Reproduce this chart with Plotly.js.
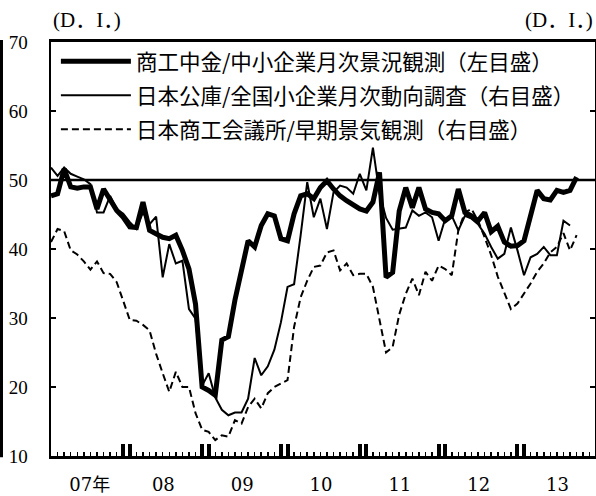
<!DOCTYPE html>
<html><head><meta charset="utf-8">
<script src="https://cdn.plot.ly/plotly-3.0.1.min.js"></script>
<style>html,body{margin:0;padding:0;background:#fff}#chart{width:596px;height:496px}</style>
</head><body><div id="chart"></div>
<script>
// Monthly data from Jan 2007 (index 0)
const shokoChukin = [47.7, 48.0, 51.6, 49.0, 48.8, 49.0, 49.0, 45.8, 48.7, 47.3,
 45.6, 44.6, 43.2, 43.1, 46.8, 42.7, 42.2, 41.7, 41.5, 42.0,
 39.8, 37.1, 32.0, 20.0, 19.5, 18.8, 26.8, 27.3, 32.6, 36.9,
 41.2, 40.3, 43.4, 45.1, 44.8, 41.5, 41.2, 45.1, 47.7, 48.0,
 47.3, 48.9, 49.9, 48.7, 47.7, 47.0, 46.3, 45.8, 45.5, 46.8,
 51.1, 35.9, 36.6, 45.5, 48.9, 46.0, 48.9, 45.8, 45.3, 45.1,
 44.1, 44.8, 48.7, 45.3, 44.8, 44.1, 45.3, 42.5, 43.3, 41.0,
 40.4, 40.5, 41.2, 45.1, 48.5, 47.3, 47.1, 48.5, 48.2, 48.5,
 50.4];
const nihonKoko = [51.8, 50.6, 51.8, 50.9, 50.5, 50.1, 49.4, 45.3, 45.3, 47.7,
 45.8, 45.1, 43.9, 42.9, 45.3, 43.6, 44.7, 35.9, 40.7, 37.9,
 38.3, 31.3, 29.9, 20.2, 22.0, 18.5, 16.7, 15.9, 16.3, 16.3,
 18.3, 24.2, 21.7, 23.0, 25.4, 29.4, 34.5, 34.9, 42.0, 49.7,
 44.6, 47.3, 42.9, 48.2, 49.2, 48.9, 48.0, 50.9, 48.5, 54.7,
 48.0, 44.5, 42.8, 43.0, 43.1, 45.6, 44.8, 45.3, 44.6, 41.2,
 44.4, 44.8, 42.7, 44.8, 44.4, 43.6, 42.2, 40.3, 38.6, 39.3,
 43.1, 39.8, 36.2, 38.8, 39.3, 40.3, 39.1, 39.1, 44.1, 43.4];
const nissho = [41.0, 42.9, 42.6, 39.8, 39.2, 38.2, 37.0, 38.2, 36.5, 36.4,
 35.2, 32.4, 29.7, 29.6, 29.0, 28.2, 24.8, 22.0, 19.3, 22.2,
 20.0, 20.0, 16.2, 13.8, 13.5, 12.3, 13.0, 12.8, 15.2, 14.7,
 17.1, 18.3, 16.9, 19.1, 20.0, 20.5, 21.0, 28.7, 33.0, 35.4,
 37.4, 37.6, 39.5, 39.8, 36.9, 37.9, 36.2, 36.4, 36.4, 34.5,
 29.7, 25.0, 25.8, 30.5, 33.5, 35.7, 33.3, 36.7, 35.4, 37.6,
 37.1, 36.2, 42.7, 45.3, 45.8, 44.1, 41.7, 39.1, 36.0, 33.5,
 31.3, 32.1, 33.5, 35.0, 36.7, 37.9, 39.5, 40.3, 42.3, 39.8,
 42.0];
const seriesNames = [
  '商工中金/中小企業月次景況観測（左目盛）',
  '日本公庫/全国小企業月次動向調査（右目盛）',
  '日本商工会議所/早期景気観測（右目盛）'
];
const yearLabels = ['07年', '08', '09', '10', '11', '12', '13'];
const unitLabel = '(D．I．)';
const refLevel = 50;

const idx = n => Array.from({length: n}, (_, i) => i);
const FONT_SERIF = 'Liberation Serif, Noto Sans CJK JP, serif';
const FONT_XLAB = 'DejaVu Serif, Noto Sans CJK JP, serif';
const FONT_JP = 'Noto Sans CJK JP, sans-serif';
const XR = [0, 82.8];

// year-boundary double bars (Dec & Jan), first month single bar
const barVals = [0];
for (let k = 1; k < yearLabels.length; k++) { barVals.push(12 * k - 1, 12 * k); }
const labelVals = yearLabels.map((_, k) => 12 * k + 5.1 + (k === 0 ? 0.8 : 0));

const traces = [
  {x: idx(shokoChukin.length), y: shokoChukin, name: seriesNames[0], type: 'scatter', mode: 'lines',
   line: {color: '#000', width: 5}, xaxis: 'x', yaxis: 'y', legendgroup: 'a'},
  {x: idx(nihonKoko.length), y: nihonKoko, name: seriesNames[1], type: 'scatter', mode: 'lines',
   line: {color: '#000', width: 2}, xaxis: 'x2', yaxis: 'y2', legendgroup: 'b'},
  {x: idx(nissho.length), y: nissho, name: seriesNames[2], type: 'scatter', mode: 'lines',
   line: {color: '#000', width: 2, dash: '7px,4px'}, xaxis: 'x2', yaxis: 'y2', legendgroup: 'c'}
];

const layout = {
  width: 596, height: 496,
  margin: {l: 51, r: 1, t: 42, b: 40},
  paper_bgcolor: '#fff', plot_bgcolor: '#fff',
  hovermode: false,
  showlegend: true,
  legend: {x: 0.009, y: 1.003, xanchor: 'left', yanchor: 'top', bgcolor: 'rgba(0,0,0,0)',
           borderwidth: 0, itemwidth: 70, tracegroupgap: 3, traceorder: 'grouped',
           font: {family: FONT_JP, size: 21.5, color: '#000'}},
  xaxis: {range: XR, tickmode: 'array', tickvals: barVals, showticklabels: false,
          ticks: 'inside', ticklen: 12, tickwidth: 4, tickcolor: '#000',
          minor: {tick0: 0, dtick: 1, ticks: 'inside', ticklen: 4, tickwidth: 1.5, tickcolor: '#000', showgrid: false},
          showline: true, linewidth: 3, linecolor: '#000', mirror: true,
          showgrid: false, zeroline: false, fixedrange: true},
  xaxis2: {range: XR, overlaying: 'x', anchor: 'y2', side: 'bottom', tickmode: 'array',
           tickvals: labelVals, ticktext: yearLabels, ticks: '', showline: false,
           showgrid: false, zeroline: false, ticklabelstandoff: 16,
           tickfont: {family: FONT_XLAB, size: 18, color: '#000'}},
  yaxis: {range: [10, 70], tick0: 10, dtick: 10, ticks: 'inside', ticklen: 5, tickwidth: 1.5,
          tickcolor: '#000', showline: true, linewidth: 2.5, linecolor: '#000',
          showgrid: false, zeroline: false, ticklabelstandoff: 17,
          tickfont: {family: FONT_SERIF, size: 19, color: '#000'}},
  yaxis2: {range: [10, 70], tick0: 10, dtick: 10, overlaying: 'y', side: 'right', anchor: 'x2',
           ticks: 'inside', ticklen: 5, tickwidth: 1.5, tickcolor: '#000',
           showline: true, linewidth: 2.5, linecolor: '#000', showticklabels: false,
           showgrid: false, zeroline: false},
  shapes: [
    {type: 'line', xref: 'paper', x0: 0, x1: 1, yref: 'y', y0: refLevel, y1: refLevel,
     line: {color: '#000', width: 2.5}},
    {type: 'line', xref: 'paper', x0: -0.091, x1: -0.091, yref: 'paper', y0: -0.003, y1: 1.005,
     line: {color: '#000', width: 3}}
  ],
  annotations: [
    {text: unitLabel, xref: 'paper', yref: 'paper', x: 0, y: 1.052, xanchor: 'left', yanchor: 'middle',
     showarrow: false, font: {family: FONT_SERIF, size: 21, color: '#000'}},
    {text: unitLabel, xref: 'paper', yref: 'paper', x: 1, y: 1.052, xanchor: 'right', yanchor: 'middle',
     showarrow: false, font: {family: FONT_SERIF, size: 21, color: '#000'}}
  ]
};
Plotly.newPlot('chart', traces, layout, {staticPlot: true, displayModeBar: false});
</script></body></html>
